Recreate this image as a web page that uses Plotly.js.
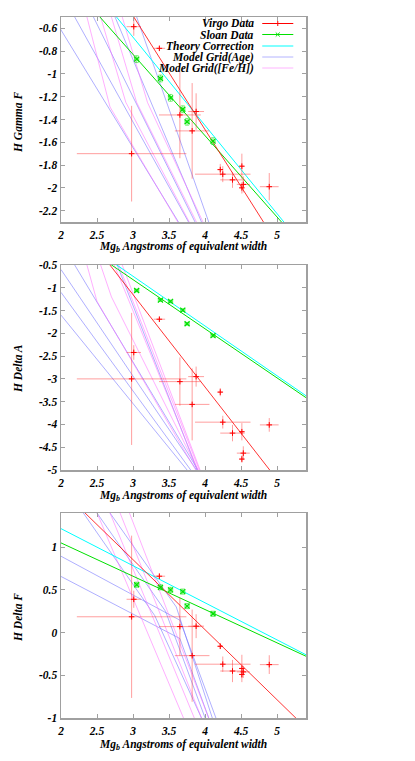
<!DOCTYPE html>
<html><head><meta charset="utf-8">
<script src="https://cdn.plot.ly/plotly-3.0.1.min.js"></script>
<style>html,body{margin:0;padding:0;background:#fff;}#chart{width:415px;height:761px;}</style>
</head><body><div id="chart"></div>
<script>
// ---------- Virgo data (same galaxies in each panel) ----------
const virgoMgb    = [3.01, 3.365, 2.98, 3.65, 3.875, 3.82, 4.21, 4.245, 4.38, 4.51, 4.89, 4.53, 4.51];
const virgoMgbErr = [0.10, 0.08, 0.76, 0.29, 0.11, 0.24, 0.03, 0.385, 0.17, 0.03, 0.13, 0.09, 0.03];
const virgoHgF    = [-0.585, -0.775, -1.70, -1.36, -1.33, -1.50, -1.84, -1.88, -1.93, -1.81, -1.99, -1.97, -2.00];
const virgoHgFErr = [0.08, 0.02, 0.42, 0.38, 0.16, 0.42, 0.05, 0.07, 0.07, 0.11, 0.12, 0.07, 0.05];
const virgoHdA    = [-2.42, -1.69, -3.00, -3.06, -2.95, -3.56, -3.29, -3.95, -4.19, -4.16, -4.01, -4.63, -4.76];
const virgoHdAErr = [0.16, 0.05, 1.45, 0.53, 0.22, 0.79, 0.09, 0.14, 0.18, 0.19, 0.15, 0.15, 0.08];
const virgoHdF    = [0.39, 0.66, 0.185, 0.07, 0.075, -0.27, -0.16, -0.37, -0.45, -0.42, -0.375, -0.46, -0.49];
const virgoHdFErr = [0.10, 0.03, 0.95, 0.34, 0.14, 0.54, 0.03, 0.09, 0.13, 0.16, 0.11, 0.07, 0.04];

// ---------- Sloan data ----------
const sloanMgb = [3.05, 3.38, 3.52, 3.69, 3.75, 4.11];
const sloanHgF = [-0.87, -1.04, -1.21, -1.31, -1.42, -1.59];
const sloanHdA = [-1.06, -1.27, -1.30, -1.49, -1.79, -2.05];
const sloanHdF = [0.56, 0.53, 0.50, 0.48, 0.31, 0.22];
const sloanErr = [0.03, 0.03, 0.03, 0.03, 0.03, 0.03];

// ---------- fitted lines (end points) ----------
const virgoFitX1 = [2.9, 4.9],  virgoFitY1 = [-0.39, -2.39];
const sloanFitX1 = [2.4, 5.2],  sloanFitY1 = [-0.40, -2.40];
const theoryX1   = [2.6, 5.2],  theoryY1   = [-0.368, -2.383];
const virgoFitX2 = [2.6, 5.0],  virgoFitY2 = [-0.34, -5.21];
const sloanFitX2 = [2.6, 5.5],  sloanFitY2 = [-0.39, -3.52];
const theoryX2   = [2.6, 5.5],  theoryY2   = [-0.31, -3.48];
const virgoFitX3 = [2.2, 5.4],  virgoFitY3 = [1.51, -1.116];
const sloanFitX3 = [2.0, 5.4],  sloanFitY3 = [1.05, -0.277];
const theoryX3   = [2.0, 5.4],  theoryY3   = [1.217, -0.26];

// ---------- model grid lines (polylines) ----------
const ageGridX1 = [[1.89, 3.63], [2.19, 3.77], [2.45, 3.86], [2.75, 3.95], [3.05, 4.05]];
const ageGridY1 = [[-0.5, -2.3], [-0.5, -2.3], [-0.5, -2.3], [-0.5, -2.3], [-0.5, -2.3]];
const fehGridX1 = [[2.36, 2.68, 3.62], [2.55, 2.9, 3.78], [2.7, 3.05, 3.88], [2.85, 3.2, 3.97]];
const fehGridY1 = [[-0.5, -1.29, -2.3], [-0.5, -1.25, -2.3], [-0.5, -1.25, -2.3], [-0.5, -1.25, -2.3]];
const ageGridX2 = [[2.0, 3.88], [2.0, 3.8], [2.0, 3.75], [2.19, 3.9], [2.78, 3.89]];
const ageGridY2 = [[-0.6, -5.0], [-1.1, -5.0], [-1.6, -5.0], [-0.5, -5.0], [-0.5, -5.0]];
const fehGridX2 = [[2.36, 2.5, 3.87], [2.55, 2.7, 3.9], [2.74, 3.9], [2.8, 3.92], [2.85, 3.93]];
const fehGridY2 = [[-0.5, -1.3, -5.0], [-0.5, -1.2, -5.0], [-0.5, -5.0], [-0.5, -5.0], [-0.5, -5.0]];
const ageGridX3 = [[2.0, 3.65, 4.15], [2.0, 3.65, 4.05], [2.31, 3.3, 3.95], [2.5, 3.45, 4.0], [2.68, 3.6, 4.1]];
const ageGridY3 = [[0.894, 0.145, -1.0], [0.657, -0.07, -1.0], [1.4, 0.2, -1.0], [1.4, 0.25, -1.0], [1.4, 0.3, -1.0]];
const fehGridX3 = [[2.5, 3.7], [2.68, 3.85], [2.82, 3.95], [2.95, 4.05]];
const fehGridY3 = [[1.4, -1.0], [1.4, -1.0], [1.4, -1.0], [1.4, -1.0]];

// ---------- axis ticks ----------
const xTicks = [2, 2.5, 3, 3.5, 4, 4.5, 5];
const xTickText = ['2', '2.5', '3', '3.5', '4', '4.5', '5'];
const y1Ticks = [-0.6, -0.8, -1, -1.2, -1.4, -1.6, -1.8, -2, -2.2];
const y1TickText = ['-0.6', '-0.8', '-1', '-1.2', '-1.4', '-1.6', '-1.8', '-2', '-2.2'];
const y2Ticks = [-0.5, -1, -1.5, -2, -2.5, -3, -3.5, -4, -4.5, -5];
const y2TickText = ['-0.5', '-1', '-1.5', '-2', '-2.5', '-3', '-3.5', '-4', '-4.5', '-5'];
const y3Ticks = [-1, -0.5, 0, 0.5, 1];
const y3TickText = ['-1', '-0.5', '0', '0.5', '1'];

const RED = '#ff0000', GREEN = '#00e000', CYAN = '#00ffff';
const BLUEGRID = 'rgba(110,110,255,0.55)', MAGGRID = 'rgba(255,110,255,0.55)';
const FONT = 'Liberation Serif';
const W = 415, H = 761, L = 61, R = 109.3, T = 17, B = 43;

const traces = [];
function panel(n, virgoY, virgoYErr, sloanY, vfx, vfy, sfx, sfy, thx, thy, agx, agy, fhx, fhy) {
  const xa = n === 1 ? 'x' : 'x' + n, ya = n === 1 ? 'y' : 'y' + n;
  for (let i = 0; i < agx.length; i++)
    traces.push({x: agx[i], y: agy[i], xaxis: xa, yaxis: ya, mode: 'lines', line: {color: BLUEGRID, width: 1}, hoverinfo: 'skip'});
  for (let i = 0; i < fhx.length; i++)
    traces.push({x: fhx[i], y: fhy[i], xaxis: xa, yaxis: ya, mode: 'lines', line: {color: MAGGRID, width: 1}, hoverinfo: 'skip'});
  traces.push({x: thx, y: thy, xaxis: xa, yaxis: ya, mode: 'lines', line: {color: CYAN, width: 1}});
  traces.push({x: sfx, y: sfy, xaxis: xa, yaxis: ya, mode: 'lines', line: {color: GREEN, width: 1}});
  traces.push({x: vfx, y: vfy, xaxis: xa, yaxis: ya, mode: 'lines', line: {color: 'rgba(255,0,0,0.8)', width: 1}});
  traces.push({x: sloanMgb, y: sloanY, xaxis: xa, yaxis: ya, mode: 'markers',
    marker: {symbol: 'x-thin-open', size: 5, line: {color: GREEN, width: 1.2}, color: GREEN},
    error_x: {type: 'data', array: sloanErr, color: 'rgba(0,230,0,0.5)', thickness: 1, width: 2},
    error_y: {type: 'data', array: sloanErr, color: 'rgba(0,230,0,0.5)', thickness: 1, width: 2}});
  traces.push({x: virgoMgb, y: virgoY, xaxis: xa, yaxis: ya, mode: 'markers',
    marker: {symbol: 'cross-thin-open', size: 4, line: {color: '#e00000', width: 1}, color: RED},
    error_x: {type: 'data', array: virgoMgbErr, color: 'rgba(255,40,40,0.45)', thickness: 1, width: 0},
    error_y: {type: 'data', array: virgoYErr, color: 'rgba(255,40,40,0.45)', thickness: 1, width: 0}});
}
panel(1, virgoHgF, virgoHgFErr, sloanHgF, virgoFitX1, virgoFitY1, sloanFitX1, sloanFitY1, theoryX1, theoryY1, ageGridX1, ageGridY1, fehGridX1, fehGridY1);
panel(2, virgoHdA, virgoHdAErr, sloanHdA, virgoFitX2, virgoFitY2, sloanFitX2, sloanFitY2, theoryX2, theoryY2, ageGridX2, ageGridY2, fehGridX2, fehGridY2);
panel(3, virgoHdF, virgoHdFErr, sloanHdF, virgoFitX3, virgoFitY3, sloanFitX3, sloanFitY3, theoryX3, theoryY3, ageGridX3, ageGridY3, fehGridX3, fehGridY3);

const ph = H - T - B;
function dom(top, bot) { return [(H - B - bot) / ph, (H - B - top) / ph]; }
const tickFont = {family: FONT, size: 11.5, color: '#000', weight: 'bold', style: 'italic'};
function xax(anchor) {
  return {domain: [0, 1], range: [2, 5.4], anchor: anchor, tickmode: 'array', tickvals: xTicks, ticktext: xTickText,
    showgrid: false, zeroline: false, showline: true, mirror: 'ticks', linecolor: '#a0a0a0', linewidth: 1.5,
    ticks: 'inside', ticklen: 4, tickcolor: '#a0a0a0', tickfont: tickFont, ticklabelstandoff: 2};
}
function yax(anchor, range, d, tv, tt) {
  return {domain: d, range: range, anchor: anchor, tickmode: 'array', tickvals: tv, ticktext: tt,
    showgrid: false, zeroline: false, showline: true, mirror: 'ticks', linecolor: '#a0a0a0', linewidth: 1.5,
    ticks: 'inside', ticklen: 4, tickcolor: '#a0a0a0', tickfont: tickFont};
}
function px2x(p) { return (p - L) / (W - L - R); }
function py2y(p) { return (H - B - p) / ph; }

const titleFont = {family: FONT, size: 11.5, color: '#000', weight: 'bold', style: 'italic'};
const legFont = {family: FONT, size: 11.5, color: '#000', weight: 'bold', style: 'italic'};
const annotations = [];
const xt = 'Mg<sub>b</sub> Angstroms of equivalent width';
[[247, 'H Gamma F', 122], [496, 'H Delta A', 368], [745, 'H Delta F', 617]].forEach(function (a) {
  annotations.push({xref: 'paper', yref: 'paper', x: px2x(183), y: py2y(a[0]), text: xt, showarrow: false, font: titleFont, xanchor: 'center', yanchor: 'middle'});
  annotations.push({xref: 'paper', yref: 'paper', x: px2x(18), y: py2y(a[2]), text: a[1], textangle: -90, showarrow: false, font: titleFont, xanchor: 'center', yanchor: 'middle'});
});
// legend
const legendNames = ['Virgo Data', 'Sloan Data', 'Theory Correction', 'Model Grid(Age)', 'Model Grid([Fe/H])'];
const legendColors = [RED, GREEN, CYAN, 'rgba(150,150,255,0.7)', 'rgba(255,150,255,0.7)'];
const legendY = [23.5, 34.5, 46, 57, 68];
const shapes = [];
for (let i = 0; i < legendNames.length; i++) {
  annotations.push({xref: 'paper', yref: 'paper', x: px2x(255), y: py2y(legendY[i]), text: legendNames[i], showarrow: false,
    font: legFont, xanchor: 'right', yanchor: 'middle', borderpad: 0});
  shapes.push({type: 'line', xref: 'paper', yref: 'paper', x0: px2x(262), x1: px2x(293), y0: py2y(legendY[i]), y1: py2y(legendY[i]), line: {color: legendColors[i], width: 1}});
}
shapes.push({type: 'line', xref: 'paper', yref: 'paper', x0: px2x(277.5), x1: px2x(277.5), y0: py2y(legendY[0] - 2.5), y1: py2y(legendY[0] + 2.5), line: {color: RED, width: 1}});
shapes.push({type: 'line', xref: 'paper', yref: 'paper', x0: px2x(275.5), x1: px2x(279.5), y0: py2y(legendY[1] - 2), y1: py2y(legendY[1] + 2), line: {color: GREEN, width: 1}});
shapes.push({type: 'line', xref: 'paper', yref: 'paper', x0: px2x(275.5), x1: px2x(279.5), y0: py2y(legendY[1] + 2), y1: py2y(legendY[1] - 2), line: {color: GREEN, width: 1}});

const layout = {
  width: W, height: H, margin: {l: L, r: R, t: T, b: B}, paper_bgcolor: '#fff', plot_bgcolor: '#fff', showlegend: false,
  xaxis: xax('y'), yaxis: yax('x', [-2.3, -0.5], dom(17, 222), y1Ticks, y1TickText),
  xaxis2: xax('y2'), yaxis2: yax('x2', [-5, -0.5], dom(265, 470), y2Ticks, y2TickText),
  xaxis3: xax('y3'), yaxis3: yax('x3', [-1, 1.4], dom(513, 718), y3Ticks, y3TickText),
  annotations: annotations, shapes: shapes
};
Plotly.newPlot('chart', traces, layout, {staticPlot: true});
</script></body></html>
